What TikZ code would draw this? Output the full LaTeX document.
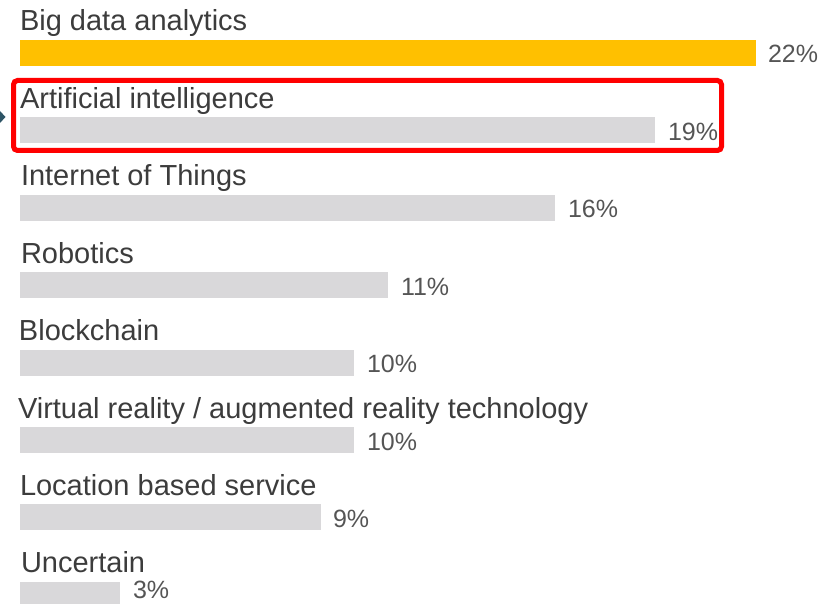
\documentclass[tikz,border=0pt]{standalone}
\usepackage{fontspec}
\setmainfont{Liberation Sans}
\definecolor{baryellow}{HTML}{FFC000}
\definecolor{bargray}{HTML}{D9D8DA}
\definecolor{labelgray}{HTML}{3C3C3C}
\definecolor{pctgray}{HTML}{555555}
\definecolor{markerteal}{HTML}{2E5566}

\begin{document}
\begin{tikzpicture}[x=1pt,y=-1pt,
  every node/.style={inner sep=0pt,outer sep=0pt},
  lbl/.style={anchor=base west,text=labelgray,font=\fontsize{29}{31}\selectfont},
  pct/.style={anchor=base west,text=pctgray,font=\fontsize{25}{27}\selectfont},]

  \useasboundingbox (0,0) rectangle (820,604);

  % big data analytics
  \node[lbl] (bigdata) at (20,31) {Big data analytics};
  \fill[baryellow] (20,40) rectangle (756,66);
  \node[pct] (bigdatapct) at (768,63) {22\%};

  % artificial intelligence
  \node[lbl] (ai) at (20,108.4) {Artificial intelligence};
  \fill[bargray] (20,117.4) rectangle (655,143.4);
  \node[pct] (aipct) at (668,140.4) {19\%};

  % internet of things
  \node[lbl] (iot) at (21,185.8) {Internet of Things};
  \fill[bargray] (20,194.8) rectangle (555,220.8);
  \node[pct] (iotpct) at (568,217.8) {16\%};

  % robotics
  \node[lbl] (robotics) at (21,263.2) {Robotics};
  \fill[bargray] (20,272.2) rectangle (388,298.2);
  \node[pct] (roboticspct) at (401,295.2) {11\%};

  % blockchain
  \node[lbl] (blockchain) at (19,340.6) {Blockchain};
  \fill[bargray] (20,349.6) rectangle (354,375.6);
  \node[pct] (blockchainpct) at (367,372.6) {10\%};

  % virtual reality
  \node[lbl] (vr) at (18,418) {Virtual reality / augmented reality technology};
  \fill[bargray] (20,427) rectangle (354,453);
  \node[pct] (vrpct) at (367,450) {10\%};

  % location based service
  \node[lbl] (lbs) at (20,495.4) {Location based service};
  \fill[bargray] (20,504.4) rectangle (321,530.4);
  \node[pct] (lbspct) at (333,527.4) {9\%};

  % uncertain
  \node[lbl] (uncertain) at (21,572.8) {Uncertain};
  \fill[bargray] (20,581.8) rectangle (120,607.8);
  \node[pct] (uncertainpct) at (133,598.5) {3\%};

  % highlight
  \draw[red,line width=5pt,rounded corners=4pt] (13.5,80.5) rectangle (721.5,150.5);
  \fill[markerteal] (0,111) -- (5.5,117) -- (0,123) -- cycle;

\end{tikzpicture}
\end{document}
